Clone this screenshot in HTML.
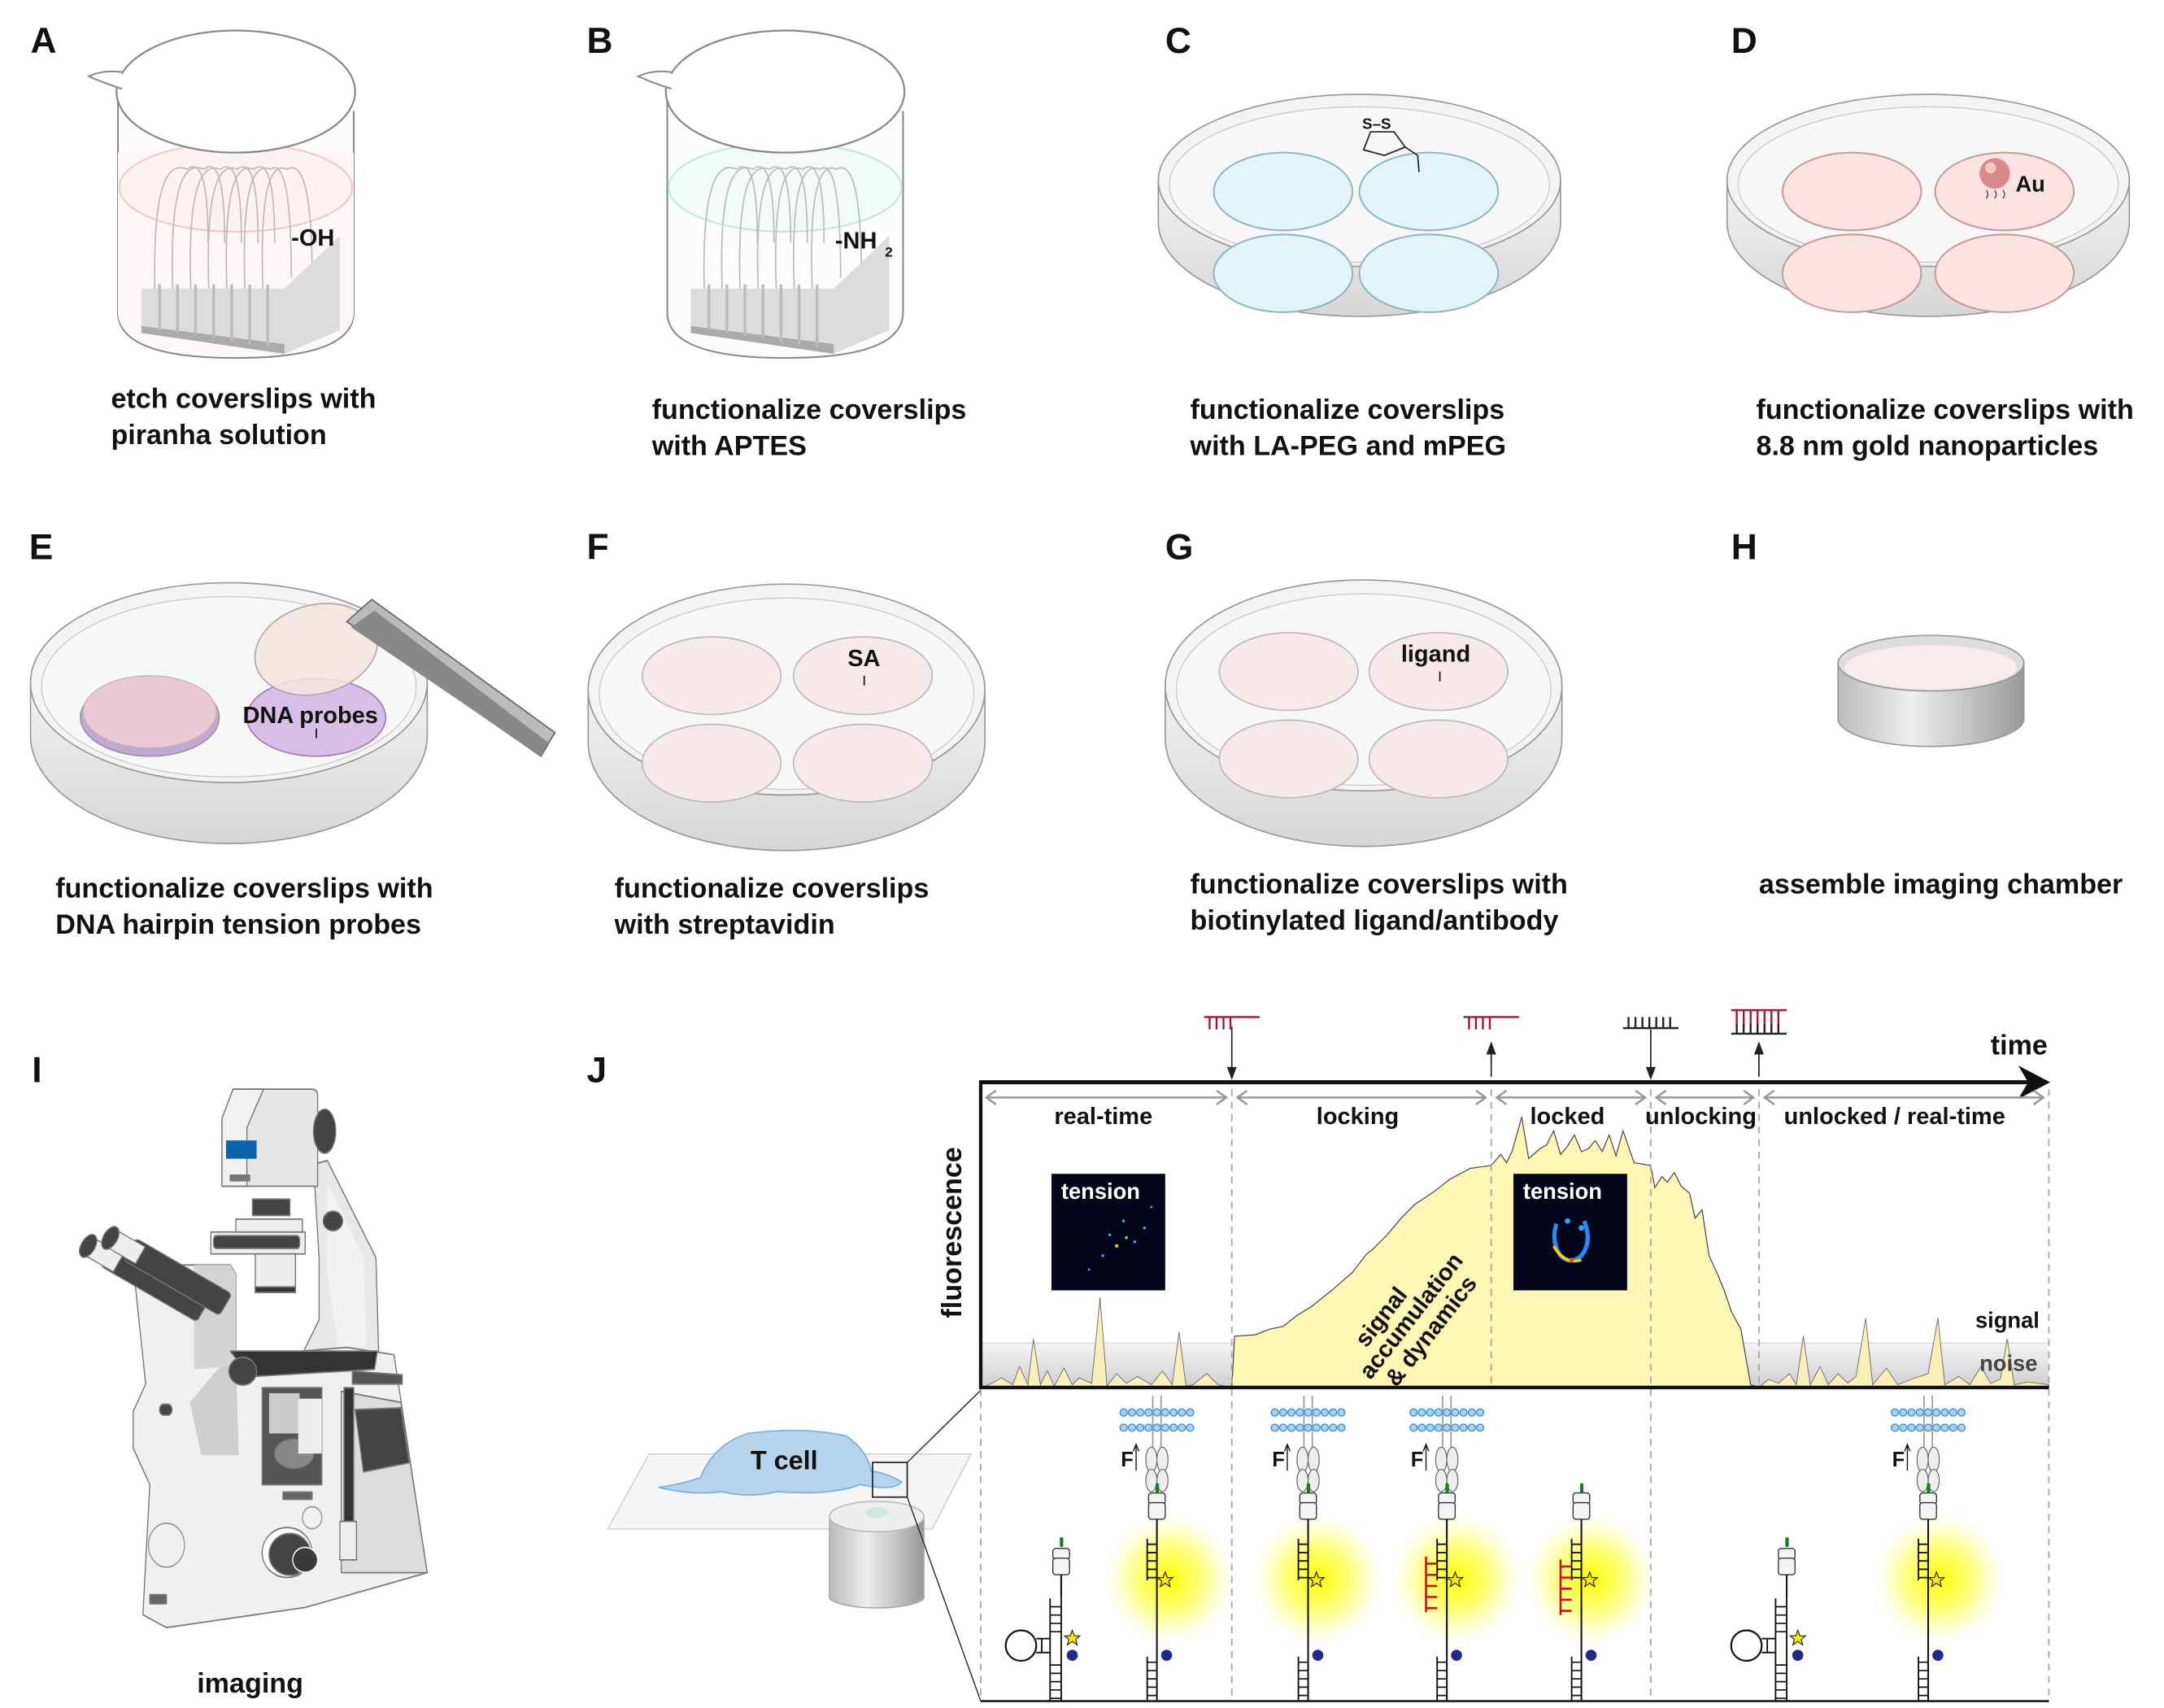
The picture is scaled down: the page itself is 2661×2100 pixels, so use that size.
<!DOCTYPE html>
<html><head><meta charset="utf-8"><style>
html,body{margin:0;padding:0;background:#fff;width:2661px;height:2100px;overflow:hidden}
svg{display:block}
text{font-family:"Liberation Sans",Arial,sans-serif;font-weight:bold;fill:#111}
</style></head><body>
<svg width="2661" height="2100" viewBox="0 0 1560 1231" preserveAspectRatio="none" xmlns="http://www.w3.org/2000/svg">
<defs>
<radialGradient id="glow"><stop offset="0" stop-color="#ffff00" stop-opacity="1"/><stop offset="0.5" stop-color="#ffff40" stop-opacity="0.7"/><stop offset="1" stop-color="#ffff80" stop-opacity="0"/></radialGradient>
<linearGradient id="noise" x1="0" y1="0" x2="0" y2="1"><stop offset="0" stop-color="#f4f4f4"/><stop offset="1" stop-color="#cfcfcf"/></linearGradient>
<linearGradient id="cyl" x1="0" x2="1"><stop offset="0" stop-color="#bbb"/><stop offset="0.4" stop-color="#eee"/><stop offset="1" stop-color="#999"/></linearGradient>
<linearGradient id="dishside" x1="0" y1="0" x2="0" y2="1"><stop offset="0" stop-color="#f2f2f2"/><stop offset="1" stop-color="#d6d6d6"/></linearGradient>
<g id="membrane">
<g fill="#a9d3f5" stroke="#3a8fd8" stroke-width="0.8">
<circle cx="-24" cy="0" r="2.6"/><circle cx="-18" cy="0" r="2.6"/><circle cx="-12" cy="0" r="2.6"/><circle cx="-6" cy="0" r="2.6"/><circle cx="0" cy="0" r="2.6"/><circle cx="6" cy="0" r="2.6"/><circle cx="12" cy="0" r="2.6"/><circle cx="18" cy="0" r="2.6"/><circle cx="24" cy="0" r="2.6"/>
<circle cx="-24" cy="11" r="2.6"/><circle cx="-18" cy="11" r="2.6"/><circle cx="-12" cy="11" r="2.6"/><circle cx="-6" cy="11" r="2.6"/><circle cx="0" cy="11" r="2.6"/><circle cx="6" cy="11" r="2.6"/><circle cx="12" cy="11" r="2.6"/><circle cx="18" cy="11" r="2.6"/><circle cx="24" cy="11" r="2.6"/>
</g>
<line x1="-3" y1="-12" x2="-3" y2="28" stroke="#999" stroke-width="1"/><line x1="3" y1="-12" x2="3" y2="28" stroke="#999" stroke-width="1"/>
<ellipse cx="-4" cy="34" rx="4" ry="9" fill="#eee" stroke="#666" stroke-width="0.7"/><ellipse cx="4" cy="34" rx="4" ry="9" fill="#eee" stroke="#666" stroke-width="0.7"/>
<ellipse cx="-4" cy="49" rx="4" ry="8" fill="#eee" stroke="#666" stroke-width="0.7"/><ellipse cx="4" cy="49" rx="4" ry="8" fill="#eee" stroke="#666" stroke-width="0.7"/>
<text x="-26" y="39" font-size="15">F</text>
<line x1="-15" y1="42" x2="-15" y2="24" stroke="#111" stroke-width="0.8"/><path d="M-17,28 L-15,23 L-13,28" fill="none" stroke="#111" stroke-width="0.8"/>
</g>
<g id="openprobe">
<rect x="-6" y="0" width="12" height="8" rx="2" fill="#f4f4f4" stroke="#333" stroke-width="0.8"/>
<rect x="-6" y="7" width="12" height="12" rx="2" fill="#f4f4f4" stroke="#333" stroke-width="0.8"/>
<rect x="-1" y="-7" width="2.5" height="7" rx="1" fill="#1a7a2a"/>
<line x1="0" y1="19" x2="0" y2="150" stroke="#111" stroke-width="1.2"/>
<path d="M-7,33 L-7,63 M-7,37 H0 M-7,43 H0 M-7,49 H0 M-7,55 H0 M-7,61 H0" stroke="#111" stroke-width="1.1" fill="none"/>
<path d="M6,57 l1.5,4 4,0 -3,2.5 1,4 -3.5,-2.5 -3.5,2.5 1,-4 -3,-2.5 4,0z" fill="#ffee00" stroke="#222" stroke-width="0.7"/>
<line x1="-7" y1="118" x2="-7" y2="150" stroke="#111" stroke-width="1.1"/>
<path d="M-7,122 H0 M-7,128 H0 M-7,134 H0 M-7,140 H0 M-7,146 H0" stroke="#111" stroke-width="1"/>
<circle cx="7" cy="117" r="4" fill="#1f2a8a"/>
</g>
<g id="hairpin">
<rect x="-6" y="0" width="12" height="8" rx="2" fill="#f4f4f4" stroke="#333" stroke-width="0.8"/>
<rect x="-6" y="7" width="12" height="12" rx="2" fill="#f4f4f4" stroke="#333" stroke-width="0.8"/>
<rect x="-1" y="-8" width="2.5" height="7" rx="1" fill="#1a7a2a"/>
<line x1="0" y1="19" x2="0" y2="36" stroke="#111" stroke-width="1.2"/>
<line x1="-8" y1="36" x2="-8" y2="110" stroke="#111" stroke-width="1.1"/><line x1="0" y1="36" x2="0" y2="110" stroke="#111" stroke-width="1.1"/>
<path d="M-8,42 H0 M-8,48 H0 M-8,54 H0 M-8,60 H0 M-8,84 H0 M-8,90 H0 M-8,96 H0 M-8,102 H0 M-8,108 H0" stroke="#111" stroke-width="1"/>
<path d="M-8,65 H-18 M-8,75 H-18 M-14,65 V75" stroke="#111" stroke-width="1.1" fill="none"/>
<circle cx="-29" cy="70" r="11" fill="#fff" stroke="#111" stroke-width="1.3"/>
<path d="M8,59 l1.5,4 4,0 -3,2.5 1,4 -3.5,-2.5 -3.5,2.5 1,-4 -3,-2.5 4,0z" fill="#ffee00" stroke="#222" stroke-width="0.7"/>
<circle cx="8" cy="77" r="4" fill="#1f2a8a"/>
</g>
<g id="lock">
<path d="M0,0 V40 M0,5 H8 M0,13 H8 M0,21 H8 M0,29 H8 M0,37 H8" stroke="#cc1111" stroke-width="1.5" fill="none"/>
</g>
</defs>

<g font-size="26">
<text x="22" y="38">A</text><text x="423" y="38">B</text><text x="840" y="38">C</text><text x="1248" y="38">D</text>
<text x="21" y="403">E</text><text x="423" y="403">F</text><text x="840" y="403">G</text><text x="1248" y="403">H</text>
<text x="23" y="780">I</text><text x="423" y="780">J</text>
</g>

<g font-size="20">
<text x="80" y="294">etch coverslips with</text><text x="80" y="320">piranha solution</text>
<text x="470" y="302">functionalize coverslips</text><text x="470" y="328">with APTES</text>
<text x="858" y="302">functionalize coverslips</text><text x="858" y="328">with LA-PEG and mPEG</text>
<text x="1266" y="302">functionalize coverslips with</text><text x="1266" y="328">8.8 nm gold nanoparticles</text>
<text x="40" y="647">functionalize coverslips with</text><text x="40" y="673">DNA hairpin tension probes</text>
<text x="443" y="647">functionalize coverslips</text><text x="443" y="673">with streptavidin</text>
<text x="858" y="644">functionalize coverslips with</text><text x="858" y="670">biotinylated ligand/antibody</text>
<text x="1268" y="644">assemble imaging chamber</text>
<text x="142" y="1220">imaging</text>
</g>

<!-- Beaker A -->
<g>
<path d="M85,72 V225 Q85,258 170,258 Q255,258 255,225 V80" fill="#fdfbfb" stroke="#888" stroke-width="1.2"/>
<path d="M85,110 V225 Q85,255 170,255 Q255,255 255,225 V110" fill="#fdf6f6" stroke="none"/>
<ellipse cx="170" cy="135" rx="84" ry="32" fill="#fdf2f2" stroke="#f2c8c8" stroke-width="1.2"/>
<g fill="none" stroke="#bbb" stroke-width="1">
<path d="M112,220 Q108,110 135,122 Q150,110 150,175"/><path d="M125,220 Q120,110 147,122 Q162,110 162,175"/><path d="M138,220 Q133,112 159,122 Q174,110 174,175"/><path d="M151,220 Q146,112 171,122 Q186,110 186,175"/><path d="M164,220 Q159,112 183,122 Q198,110 198,175"/><path d="M177,220 Q172,112 195,122 Q210,112 210,200"/><path d="M190,220 Q185,112 207,122 Q225,112 225,200"/>
</g>
<polygon points="102,208 205,208 245,170 245,238 205,255 102,240" fill="#dcdcdc"/>
<polygon points="102,240 205,255 205,248 102,235" fill="#aaa"/>
<g stroke="#bbb" stroke-width="2"><line x1="115" y1="205" x2="115" y2="238"/><line x1="128" y1="205" x2="128" y2="240"/><line x1="141" y1="205" x2="141" y2="242"/><line x1="154" y1="205" x2="154" y2="244"/><line x1="167" y1="205" x2="167" y2="246"/><line x1="180" y1="205" x2="180" y2="248"/><line x1="193" y1="205" x2="193" y2="250"/></g>
<ellipse cx="170" cy="66" rx="86" ry="44" fill="#fff" stroke="#888" stroke-width="1.3"/>
<path d="M88,52 Q75,50 64,55 Q75,60 88,64" fill="#fff" stroke="#888" stroke-width="1.2"/>
<text x="210" y="177" font-size="17">-OH</text>
</g>
<!-- Beaker B -->
<g transform="translate(396,0)">
<path d="M85,72 V225 Q85,258 170,258 Q255,258 255,225 V80" fill="#fbfdfc" stroke="#888" stroke-width="1.2"/>
<ellipse cx="170" cy="135" rx="84" ry="32" fill="#f3fbf7" stroke="#c4e8d6" stroke-width="1.2"/>
<g fill="none" stroke="#bbb" stroke-width="1">
<path d="M112,220 Q108,110 135,122 Q150,110 150,175"/><path d="M125,220 Q120,110 147,122 Q162,110 162,175"/><path d="M138,220 Q133,112 159,122 Q174,110 174,175"/><path d="M151,220 Q146,112 171,122 Q186,110 186,175"/><path d="M164,220 Q159,112 183,122 Q198,110 198,175"/><path d="M177,220 Q172,112 195,122 Q210,112 210,200"/><path d="M190,220 Q185,112 207,122 Q225,112 225,200"/>
</g>
<polygon points="102,208 205,208 245,170 245,238 205,255 102,240" fill="#dcdcdc"/>
<polygon points="102,240 205,255 205,248 102,235" fill="#aaa"/>
<g stroke="#bbb" stroke-width="2"><line x1="115" y1="205" x2="115" y2="238"/><line x1="128" y1="205" x2="128" y2="240"/><line x1="141" y1="205" x2="141" y2="242"/><line x1="154" y1="205" x2="154" y2="244"/><line x1="167" y1="205" x2="167" y2="246"/><line x1="180" y1="205" x2="180" y2="248"/><line x1="193" y1="205" x2="193" y2="250"/></g>
<ellipse cx="170" cy="66" rx="86" ry="44" fill="#fff" stroke="#888" stroke-width="1.3"/>
<path d="M88,52 Q75,50 64,55 Q75,60 88,64" fill="#fff" stroke="#888" stroke-width="1.2"/>
<text x="206" y="179" font-size="17">-NH</text><text x="242" y="185" font-size="10">2</text>
</g>

<!-- Dish C -->
<g>
<path d="M835,130 V160 A145,68 0 0 0 1125,160 V130" fill="url(#dishside)" stroke="#999" stroke-width="1"/>
<ellipse cx="980" cy="130" rx="145" ry="62" fill="#f3f3f3" stroke="#999" stroke-width="1"/>
<ellipse cx="980" cy="133" rx="137" ry="56" fill="#f7f7f7" stroke="#ccc" stroke-width="0.8"/>
<g fill="#e3f4f8" stroke="#8cb8c4" stroke-width="1.2">
<ellipse cx="925" cy="138" rx="50" ry="28"/><ellipse cx="1030" cy="138" rx="50" ry="28"/><ellipse cx="925" cy="197" rx="50" ry="28"/><ellipse cx="1030" cy="197" rx="50" ry="28"/></g>
<path d="M983,108 L988,95 L1005,95 L1013,106 L998,112 Z M1013,106 L1022,112 L1023,124" fill="none" stroke="#222" stroke-width="1"/>
<text x="982" y="93" font-size="11">S–S</text>
</g>
<!-- Dish D -->
<g transform="translate(410,0)">
<path d="M835,130 V160 A145,68 0 0 0 1125,160 V130" fill="url(#dishside)" stroke="#999" stroke-width="1"/>
<ellipse cx="980" cy="130" rx="145" ry="62" fill="#f3f3f3" stroke="#999" stroke-width="1"/>
<ellipse cx="980" cy="133" rx="137" ry="56" fill="#f7f7f7" stroke="#ccc" stroke-width="0.8"/>
<g fill="#fbe3e3" stroke="#c89a9a" stroke-width="1.2">
<ellipse cx="925" cy="138" rx="50" ry="28"/><ellipse cx="1035" cy="138" rx="50" ry="28"/><ellipse cx="925" cy="197" rx="50" ry="28"/><ellipse cx="1035" cy="197" rx="50" ry="28"/></g>
<circle cx="1028" cy="125" r="11" fill="#d88a8a"/><circle cx="1025" cy="121" r="4" fill="#f4c8c8"/>
<path d="M1022,137 q2,3 0,6 M1028,137 q2,3 0,6 M1034,137 q2,3 0,6" stroke="#444" stroke-width="0.8" fill="none"/>
<text x="1043" y="138" font-size="16">Au</text>
</g>
<!-- Dish E -->
<g>
<path d="M22,492 V530 A143,78 0 0 0 308,530 V492" fill="url(#dishside)" stroke="#999" stroke-width="1"/>
<ellipse cx="165" cy="492" rx="143" ry="72" fill="#f3f3f3" stroke="#999" stroke-width="1"/>
<ellipse cx="165" cy="495" rx="135" ry="65" fill="#f7f7f7" stroke="#ccc" stroke-width="0.8"/>
<ellipse cx="108" cy="517" rx="50" ry="28" fill="#c4a6d6" stroke="#999" stroke-width="1"/>
<ellipse cx="108" cy="513" rx="48" ry="26" fill="#ebc8d6" stroke="#bba" stroke-width="0.8"/>
<ellipse cx="228" cy="517" rx="50" ry="28" fill="#d9bfe8" stroke="#9b7fb5" stroke-width="1"/>
<ellipse cx="228" cy="468" rx="45" ry="32" transform="rotate(-15 228 468)" fill="#f7e4e0" fill-opacity="0.85" stroke="#aaa" stroke-width="1"/>
<polygon points="250,448 268,432 400,528 390,545" fill="#bbb" stroke="#666" stroke-width="1"/>
<polygon points="253,452 270,440 395,535 390,545" fill="#888"/>
<text x="175" y="521" font-size="17">DNA probes</text>
<line x1="228" y1="525" x2="228" y2="532" stroke="#111"/>
</g>
<!-- Dish F -->
<g>
<path d="M424,497 V535 A143,78 0 0 0 710,535 V497" fill="url(#dishside)" stroke="#999" stroke-width="1"/>
<ellipse cx="567" cy="497" rx="143" ry="76" fill="#f3f3f3" stroke="#999" stroke-width="1"/>
<ellipse cx="567" cy="500" rx="135" ry="69" fill="#f7f7f7" stroke="#ccc" stroke-width="0.8"/>
<g fill="#f7e8ea" stroke="#bbb" stroke-width="1"><ellipse cx="513" cy="487" rx="50" ry="28"/><ellipse cx="622" cy="487" rx="50" ry="28"/><ellipse cx="513" cy="550" rx="50" ry="28"/><ellipse cx="622" cy="550" rx="50" ry="28"/></g>
<text x="611" y="480" font-size="17">SA</text><line x1="623" y1="487" x2="623" y2="494" stroke="#111"/>
</g>
<!-- Dish G -->
<g>
<path d="M840,494 V532 A143,78 0 0 0 1126,532 V494" fill="url(#dishside)" stroke="#999" stroke-width="1"/>
<ellipse cx="983" cy="494" rx="143" ry="76" fill="#f3f3f3" stroke="#999" stroke-width="1"/>
<ellipse cx="983" cy="497" rx="135" ry="69" fill="#f7f7f7" stroke="#ccc" stroke-width="0.8"/>
<g fill="#f7e8ea" stroke="#bbb" stroke-width="1"><ellipse cx="929" cy="484" rx="50" ry="28"/><ellipse cx="1037" cy="484" rx="50" ry="28"/><ellipse cx="929" cy="547" rx="50" ry="28"/><ellipse cx="1037" cy="547" rx="50" ry="28"/></g>
<text x="1010" y="477" font-size="17">ligand</text><line x1="1038" y1="484" x2="1038" y2="491" stroke="#111"/>
</g>
<!-- Chamber H -->
<g>
<path d="M1325,478 V518 A67,20 0 0 0 1459,518 V478" fill="url(#cyl)" stroke="#999"/>
<ellipse cx="1392" cy="478" rx="67" ry="20" fill="#ddd" stroke="#999"/>
<ellipse cx="1392" cy="481" rx="62" ry="16" fill="#f6ecec"/>
</g>

<!-- Microscope I (vertically stretched) -->
<g transform="matrix(1,0,0,1.32,0,-243.3)" stroke="#777" stroke-width="0.8" stroke-linejoin="round">
<polygon points="226,820 236,818 271,871 273,924 240,924 219,922 230,905 230,871" fill="#e8e8e8"/>
<polygon points="236,830 262,871 264,920 244,920 236,880" fill="#f2f2f2" stroke="none"/>
<polygon points="96,875 166,875 170,880 170,925 250,920 284,924 308,1043 220,1062 120,1073 103,1066 108,995 96,975 96,955 105,940" fill="#f0f0f0"/>
<polygon points="137,950 170,920 172,979 145,979" fill="#cfcfcf" stroke="none"/>
<polygon points="140,875 166,875 170,880 170,930 140,932" fill="#d4d4d4" stroke="none"/>
<polygon points="246,944 289,950 308,1043 246,1043" fill="#dcdcdc"/>
<polygon points="256,954 289,953 295,983 262,988" fill="#444"/>
<rect x="189" y="942" width="43" height="53" fill="#555"/>
<rect x="194" y="945" width="22" height="22" fill="#ccc" stroke="none"/>
<ellipse cx="212" cy="978" rx="14" ry="8" fill="#888"/>
<rect x="215" y="948" width="17" height="30" fill="#eee" stroke="none"/>
<rect x="248" y="942" width="7" height="74" fill="#333"/>
<rect x="245" y="1015" width="12" height="21" fill="#eee"/>
<polygon points="166,922 272,922 270,932 180,936" fill="#333"/>
<polygon points="254,933 290,935 290,940 254,940" fill="#555"/>
<ellipse cx="175" cy="933" rx="10" ry="7.6" fill="#444"/>
<path d="M168,779 L225,779 Q229,779 229,783 L229,832 L160,832 L160,795 Z" fill="#e6e6e6"/>
<polygon points="160,795 168,779 190,779 178,800 178,832 160,832" fill="#f2f2f2"/>
<rect x="163" y="807" width="22" height="10" fill="#0b63b0" stroke="none"/>
<rect x="166" y="826" width="14" height="3" fill="#777"/>
<ellipse cx="234" cy="802" rx="8" ry="12" fill="#444"/>
<rect x="182" y="839" width="27" height="9" fill="#444"/>
<rect x="152" y="857" width="68" height="12" fill="#eee"/>
<rect x="154" y="859" width="62" height="7" rx="2" fill="#444"/>
<rect x="170" y="850" width="48" height="7" fill="#eee"/>
<rect x="184" y="869" width="29" height="21" fill="#eee"/>
<rect x="184" y="887" width="29" height="3" fill="#333"/>
<ellipse cx="240" cy="851" rx="7" ry="5.3" fill="#444"/>
<g transform="translate(0,885) scale(1,0.76) translate(0,-885)">
<g transform="rotate(30 100 885)">
<rect x="70" y="872" width="80" height="16" rx="3" fill="#444"/>
<rect x="55" y="873" width="25" height="14" fill="#eee"/>
<ellipse cx="55" cy="880" rx="5" ry="9" fill="#444"/>
<rect x="82" y="858" width="80" height="18" rx="3" fill="#444"/>
<rect x="66" y="860" width="25" height="14" fill="#eee"/>
<ellipse cx="66" cy="867" rx="5" ry="9" fill="#444"/>
</g></g>
<ellipse cx="120" cy="1028" rx="13" ry="12" fill="none" stroke="#999"/>
<ellipse cx="225" cy="1013" rx="7" ry="6" fill="none" stroke="#999"/>
<ellipse cx="207" cy="1032" rx="18" ry="13.6" fill="#fff"/>
<ellipse cx="209" cy="1033" rx="15" ry="11.4" fill="#444"/>
<ellipse cx="220" cy="1036" rx="9" ry="6.8" fill="#3a3a3a" stroke="#fff"/>
<rect x="115" y="951" width="9" height="6" rx="3" fill="#444"/>
<rect x="204" y="999" width="21" height="4" fill="#666"/>
<rect x="108" y="1055" width="12" height="5" fill="#666"/>
</g>

<!-- J: T cell & objective -->
<polygon points="438,1102 468,1048 700,1048 672,1102" fill="#f5f5f5" stroke="#ccc" stroke-width="0.8"/>
<path d="M475,1072 Q490,1070 505,1065 Q515,1040 540,1033 Q580,1028 610,1035 Q625,1045 628,1060 Q640,1062 650,1068 Q645,1075 620,1070 Q600,1078 560,1075 Q540,1080 520,1075 Q500,1078 475,1072 Z" fill="#b6d4ec" stroke="#7ab0dc" stroke-width="1"/>
<text x="541" y="1059" font-size="19">T cell</text>
<path d="M598,1095 V1152 A35,9 0 0 0 666,1152 V1095" fill="url(#cyl)" stroke="#aaa"/>
<ellipse cx="632" cy="1093" rx="34" ry="11" fill="#eee" stroke="#bbb"/>
<ellipse cx="632" cy="1090" rx="8" ry="4" fill="#cdebd8"/>
<rect x="629" y="1054" width="25" height="25" fill="none" stroke="#222" stroke-width="1"/>
<line x1="654" y1="1054" x2="707" y2="1002" stroke="#222" stroke-width="0.8"/>
<line x1="654" y1="1079" x2="707" y2="1226" stroke="#222" stroke-width="0.8"/>

<!-- J: chart -->
<rect x="707" y="968" width="770" height="32" fill="url(#noise)"/>
<line x1="707" y1="968" x2="1477" y2="968" stroke="#ddd" stroke-width="1"/>
<path d="M707,1000 L715,997 722,993 730,998 735,985 741,998 745,965 750,998 755,988 760,999 767,986 773,998 778,993 787,997 793,935 798,999 805,990 812,997 820,992 830,998 838,988 845,998 850,960 855,999 860,998 870,990 878,998 888,1000 Z" fill="#f8f0b8" stroke="#777" stroke-width="0.6"/>
<path d="M888,1000 L890,963 905,962 915,958 925,956 935,948 945,942 960,930 975,917 985,904 990,900 1000,890 1010,878 1020,868 1035,858 1045,850 1060,842 1075,840 1082,832 1086,838 1090,830 1097,805 1102,835 1110,828 1115,825 1120,815 1125,832 1130,826 1135,818 1140,830 1145,828 1150,822 1155,830 1160,818 1165,833 1170,815 1178,838 1190,840 1193,856 1198,848 1202,852 1207,845 1212,855 1218,860 1222,878 1227,872 1232,905 1238,918 1243,930 1248,945 1255,958 1262,998 1268,1000 Z" fill="#fdf6b4" stroke="#444" stroke-width="0.7"/>
<path d="M1268,1000 L1275,994 1282,997 1290,990 1295,998 1300,963 1305,998 1312,985 1318,998 1325,990 1332,997 1338,992 1345,950 1350,998 1360,986 1368,998 1378,994 1390,990 1397,950 1402,998 1412,992 1420,998 1428,985 1435,997 1442,994 1447,965 1452,998 1462,996 1477,998 1477,1000 Z" fill="#f8f0b8" stroke="#777" stroke-width="0.6"/>

<g stroke="#aaa" stroke-width="1.1" stroke-dasharray="5,4">
<line x1="707" y1="785" x2="707" y2="1226"/><line x1="888" y1="785" x2="888" y2="1226"/><line x1="1075" y1="785" x2="1075" y2="1000"/><line x1="1190" y1="785" x2="1190" y2="1226"/><line x1="1268" y1="785" x2="1268" y2="1000"/><line x1="1477" y1="785" x2="1477" y2="1226"/>
</g>
<line x1="707" y1="779" x2="707" y2="1001" stroke="#111" stroke-width="2.5"/>
<line x1="706" y1="1000" x2="1477" y2="1000" stroke="#111" stroke-width="2.5"/>
<line x1="706" y1="780" x2="1465" y2="780" stroke="#111" stroke-width="3"/>
<polygon points="1455,768 1478,780 1455,792 1462,780" fill="#111"/>
<line x1="707" y1="1226" x2="1477" y2="1226" stroke="#111" stroke-width="1.5"/>
<text x="1435" y="760" font-size="20">time</text>
<text x="0" y="0" font-size="20" transform="translate(693,950) rotate(-90)">fluorescence</text>

<g stroke="#999" stroke-width="1.5" fill="none">
<line x1="711" y1="791" x2="884" y2="791"/><path d="M718,786 L711,791 718,796 M877,786 L884,791 877,796"/>
<line x1="892" y1="791" x2="1071" y2="791"/><path d="M899,786 L892,791 899,796 M1064,786 L1071,791 1064,796"/>
<line x1="1079" y1="791" x2="1186" y2="791"/><path d="M1086,786 L1079,791 1086,796 M1179,786 L1186,791 1179,796"/>
<line x1="1194" y1="791" x2="1264" y2="791"/><path d="M1201,786 L1194,791 1201,796 M1257,786 L1264,791 1257,796"/>
<line x1="1272" y1="791" x2="1473" y2="791"/><path d="M1279,786 L1272,791 1279,796 M1466,786 L1473,791 1466,796"/>
</g>
<g font-size="17">
<text x="760" y="810">real-time</text><text x="949" y="810">locking</text><text x="1103" y="810">locked</text><text x="1186" y="810">unlocking</text><text x="1286" y="810">unlocked / real-time</text>
</g>
<g stroke="#222" stroke-width="1">
<line x1="888" y1="740" x2="888" y2="776"/><path d="M885,769 L888,777 891,769" fill="#222"/>
<line x1="1075" y1="776" x2="1075" y2="752"/><path d="M1072,760 L1075,752 1078,760" fill="#222"/>
<line x1="1190" y1="742" x2="1190" y2="776"/><path d="M1187,769 L1190,777 1193,769" fill="#222"/>
<line x1="1268" y1="776" x2="1268" y2="752"/><path d="M1265,760 L1268,752 1271,760" fill="#222"/>
</g>
<g stroke="#b01030" stroke-width="1.4" fill="none">
<path d="M868,733 H908 M872,733 V742 M877,733 V742 M882,733 V742 M887,733 V742"/>
<path d="M1055,733 H1095 M1059,733 V742 M1064,733 V742 M1069,733 V742 M1074,733 V742"/>
<path d="M1248,728 H1288 M1252,728 V740 M1257,728 V740 M1262,728 V740 M1267,728 V740 M1272,728 V740 M1277,728 V740 M1282,728 V740"/>
</g>
<g stroke="#222" stroke-width="1.4" fill="none">
<path d="M1170,741 H1210 M1174,733 V741 M1179,733 V741 M1184,733 V741 M1189,733 V741 M1194,733 V741 M1199,733 V741 M1204,733 V741"/>
<path d="M1248,745 H1288 M1252,738 V745 M1257,738 V745 M1262,738 V745 M1267,738 V745 M1272,738 V745 M1277,738 V745 M1282,738 V745"/>
</g>

<rect x="758" y="846" width="82" height="84" fill="#03061a"/>
<g fill="#3fb0ff"><circle cx="800" cy="890" r="1"/><circle cx="810" cy="880" r="1"/><circle cx="818" cy="895" r="1"/><circle cx="795" cy="905" r="1"/><circle cx="825" cy="885" r="1"/><circle cx="805" cy="898" r="1.2" fill="#ffcc00"/><circle cx="812" cy="892" r="1" fill="#6f6"/><circle cx="785" cy="915" r="0.8"/><circle cx="830" cy="870" r="0.8"/></g>
<text x="765" y="864" font-size="16" style="fill:#fff">tension</text>
<rect x="1091" y="846" width="82" height="84" fill="#03061a"/>
<path d="M1122,882 Q1118,895 1125,905 Q1132,912 1140,905 Q1148,895 1142,880" fill="none" stroke="#1f8fff" stroke-width="3"/>
<path d="M1120,898 Q1128,912 1140,908" fill="none" stroke="#ffd000" stroke-width="2"/>
<circle cx="1130" cy="880" r="2" fill="#2fa0ff"/><circle cx="1140" cy="885" r="2" fill="#2fa0ff"/><circle cx="1133" cy="908" r="1.6" fill="#ff4020"/>
<text x="1098" y="864" font-size="16" style="fill:#fff">tension</text>

<text x="0" y="0" font-size="17" transform="translate(985,972) rotate(-52)">signal</text>
<text x="0" y="0" font-size="17" transform="translate(978,972) rotate(-52) translate(-12,22)">accumulation</text>
<text x="0" y="0" font-size="17" transform="translate(993,982) rotate(-52) translate(-6,22)">&amp; dynamics</text>
<text x="1424" y="957" font-size="16">signal</text>
<text x="1427" y="988" font-size="16" style="fill:#444">noise</text>

<circle cx="843" cy="1138" r="46" fill="url(#glow)"/>
<circle cx="950" cy="1138" r="46" fill="url(#glow)"/>
<circle cx="1050" cy="1138" r="46" fill="url(#glow)"/>
<circle cx="1147" cy="1138" r="46" fill="url(#glow)"/>
<circle cx="1398" cy="1138" r="46" fill="url(#glow)"/>
<use href="#membrane" x="834" y="1018"/>
<use href="#membrane" x="943" y="1018"/>
<use href="#membrane" x="1043" y="1018"/>
<use href="#membrane" x="1390" y="1018"/>
<use href="#openprobe" x="834" y="1076"/>
<use href="#openprobe" x="943" y="1076"/>
<use href="#openprobe" x="1043" y="1076"/>
<use href="#openprobe" x="1140" y="1076"/>
<use href="#openprobe" x="1390" y="1076"/>
<use href="#lock" x="1028" y="1122"/>
<use href="#lock" x="1125" y="1124"/>
<use href="#hairpin" x="765" y="1116"/>
<use href="#hairpin" x="1288" y="1116"/>
</svg>
</body></html>
